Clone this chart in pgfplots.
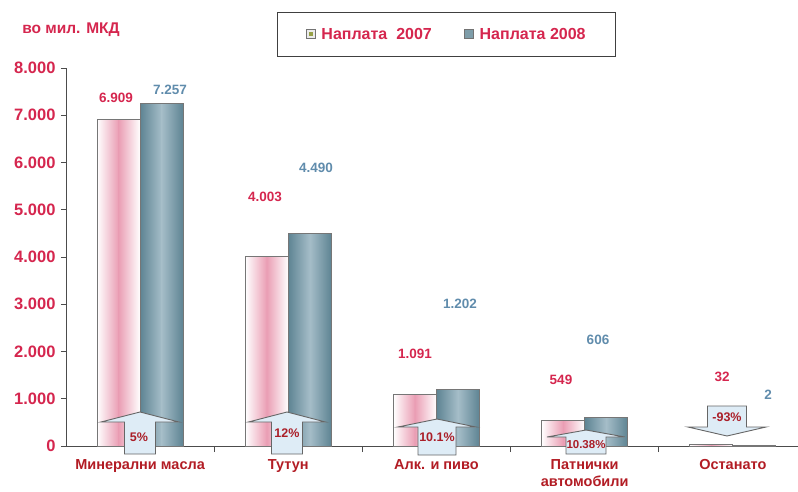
\documentclass[border=0pt]{standalone}
\usepackage{fontspec}
\setmainfont{Liberation Sans}
\usepackage{pgfplots}
\pgfplotsset{compat=1.18}
\definecolor{crimson}{RGB}{213,38,78}
\definecolor{catred}{RGB}{178,28,36}
\definecolor{pctred}{RGB}{170,30,40}
\definecolor{steellabel}{RGB}{96,140,172}
\definecolor{bargray}{RGB}{118,118,118}
\definecolor{pinkmid}{RGB}{234,158,180}
\definecolor{steeldark}{RGB}{94,132,147}
\definecolor{steellight}{RGB}{165,189,200}
\definecolor{arrowfill}{RGB}{222,236,246}
\definecolor{legolive}{RGB}{150,160,70}

\newcommand{\uparr}[6]{% cx, half head, tip y, head base y, half shaft, bottom y
  \draw[draw=black!60, fill=arrowfill, line width=0.9pt]
    ({#1-#5},#6) -- ({#1-#5},#4) -- ({#1-#2},#4) -- (#1,#3) -- ({#1+#2},#4)
    -- ({#1+#5},#4) -- ({#1+#5},#6) -- cycle;}

% one bar: x left, x middle, x right, value, edge colour, centre colour
\newcommand{\shadedbar}[6]{%
  \addplot[draw=none, left color=#5, right color=#6] coordinates {(#1,0) (#1,#4) (#2,#4) (#2,0)} -- cycle;
  \addplot[draw=none, left color=#6, right color=#5] coordinates {(#2,0) (#2,#4) (#3,#4) (#3,0)} -- cycle;
  \addplot[draw=bargray, line width=0.9pt, fill=none] coordinates {(#1,0) (#1,#4) (#3,#4) (#3,0)} -- cycle;
}

\begin{document}
\begin{tikzpicture}
\useasboundingbox (0,0) rectangle (798pt,491pt);
\begin{axis}[
  at={(66pt,45pt)}, anchor=south west,
  scale only axis,
  width=732pt, height=378pt,
  xmin=-0.5, xmax=4.44,
  ymin=0, ymax=8000,
  clip=false,
  axis x line*=bottom, axis y line*=left,
  axis line style={draw=black!70, line width=0.9pt},
  tick style={draw=black!70, line width=0.9pt},
  tick align=outside,
  major tick length=5pt,
  minor tick length=6pt,
  ytick={0,1000,...,8000},
  yticklabels={0,1.000,2.000,3.000,4.000,5.000,6.000,7.000,8.000},
  yticklabel style={font=\bfseries\fontsize{16.5}{18}\selectfont, text=crimson, xshift=-2pt},
  xtick={0,...,4},
  xticklabels={Минерални масла, Тутун, Алк. и пиво, {Патнички\\автомобили}, Останато},
  xticklabel style={align=center, font=\bfseries\fontsize{14.5}{16.5}\selectfont, text=catred, yshift=-5pt},
  major x tick style={draw=none},
  minor xtick={0.5,1.5,2.5,3.5},
  legend columns=2,
  legend cell align=left,
  legend style={at={(0.52,1.089)}, anchor=center, draw=black!75, line width=0.9pt,
    font=\bfseries\fontsize{16}{18}\selectfont, text=crimson,
    inner xsep=28pt, inner ysep=14pt,
    /tikz/every odd column/.append style={column sep=4pt},
    /tikz/every even column/.append style={column sep=30pt}},
]
\addlegendimage{legend image code/.code={
    \draw[draw=black!55, fill=black!8, line width=0.8pt] (0pt,-4.5pt) rectangle (9pt,4.5pt);
    \fill[legolive] (3pt,-1.5pt) rectangle (6pt,1.5pt);}}
\addlegendentry{Наплата\ \ 2007}
\addlegendimage{legend image code/.code={
    \draw[draw=black!55, fill=steeldark!80!white, line width=0.8pt] (0pt,-4.5pt) rectangle (9pt,4.5pt);}}
\addlegendentry{Наплата 2008}
% Наплата 2007 (bar width 0.29)
\shadedbar{-0.29}{-0.145}{0}{6909}{white}{pinkmid}
\shadedbar{0.71}{0.855}{1}{4003}{white}{pinkmid}
\shadedbar{1.71}{1.855}{2}{1091}{white}{pinkmid}
\shadedbar{2.71}{2.855}{3}{549}{white}{pinkmid}
\shadedbar{3.71}{3.855}{4}{32}{white}{pinkmid}
% Наплата 2008
\shadedbar{0}{0.145}{0.29}{7257}{steeldark}{steellight}
\shadedbar{1}{1.145}{1.29}{4490}{steeldark}{steellight}
\shadedbar{2}{2.145}{2.29}{1202}{steeldark}{steellight}
\shadedbar{3}{3.145}{3.29}{606}{steeldark}{steellight}
\shadedbar{4}{4.145}{4.29}{2}{steeldark}{steellight}
\end{axis}

\begin{scope}[x=1pt, y=-1pt, yshift=491pt]
  \node[font=\bfseries\fontsize{15.5}{17}\selectfont, text=crimson] at (71,30) {во мил. МКД};
  % value labels
  \begin{scope}[every node/.style={font=\bfseries\fontsize{13.5}{15}\selectfont}]
    \node[text=crimson] at (116,98) {6.909};
    \node[text=steellabel] at (170,90) {7.257};
    \node[text=crimson] at (265,197) {4.003};
    \node[text=steellabel] at (316,168) {4.490};
    \node[text=crimson] at (415,354) {1.091};
    \node[text=steellabel] at (460,304) {1.202};
    \node[text=crimson] at (561,380) {549};
    \node[text=steellabel] at (598,340) {606};
    \node[text=crimson] at (722,377) {32};
    \node[text=steellabel] at (768,395) {2};
  \end{scope}
  % change arrows
  \uparr{140}{39}{412}{422}{15.5}{454}
  \uparr{287}{38.5}{412}{422}{15.5}{454}
  \uparr{437}{39}{419}{427}{19}{455}
  \uparr{586}{39}{430}{437}{20}{454}
  \draw[draw=black!60, fill=arrowfill, line width=0.9pt]
    (707.5,406) -- (746.5,406) -- (746.5,427) -- (766,427) -- (727,436) -- (688,427) -- (707.5,427) -- cycle;
  \begin{scope}[every node/.style={font=\bfseries\fontsize{12.5}{14}\selectfont, text=pctred}]
    \node at (139,437) {5\%};
    \node at (287,433) {12\%};
    \node at (437,437) {10.1\%};
    \node[font=\bfseries\fontsize{11.5}{13}\selectfont] at (586,445) {10.38\%};
    \node at (727,417) {-93\%};
  \end{scope}
\end{scope}
\end{tikzpicture}
\end{document}
